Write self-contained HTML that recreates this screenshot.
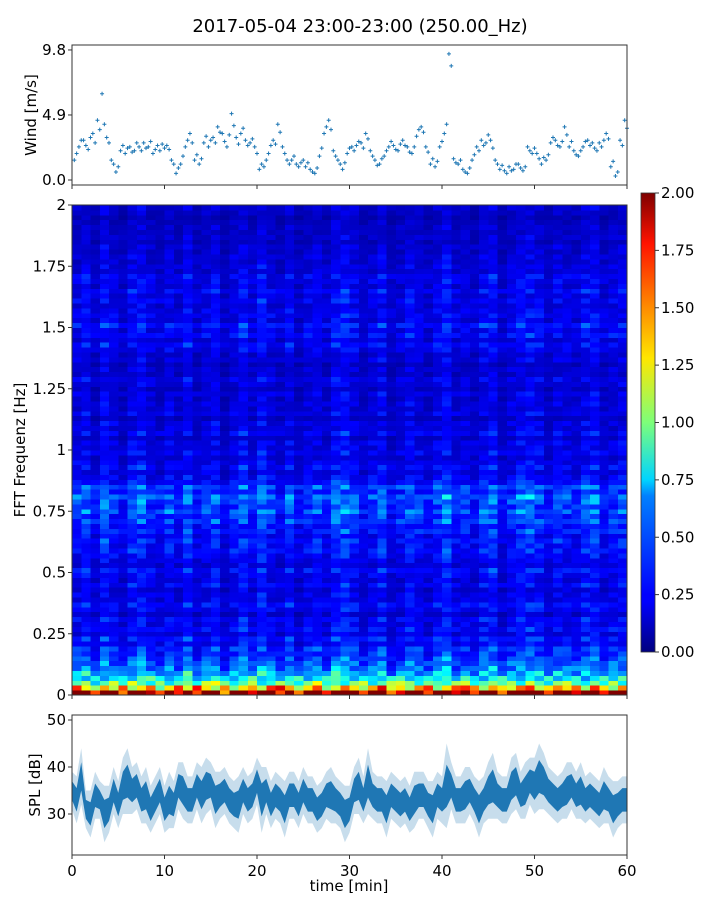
<!DOCTYPE html>
<html><head><meta charset="utf-8"><style>
body{margin:0;background:#fff;}
svg text{font-family:"DejaVu Sans","Liberation Sans",sans-serif;fill:#000;}
</style></head><body>
<svg id="chart" width="720" height="900" xmlns="http://www.w3.org/2000/svg">
<defs>
<linearGradient id="jet" x1="0" y1="1" x2="0" y2="0">
<stop offset="0" stop-color="#00007f"/><stop offset="0.11" stop-color="#0000ff"/><stop offset="0.125" stop-color="#0000ff"/>
<stop offset="0.34" stop-color="#0080ff"/><stop offset="0.375" stop-color="#00d4ff"/><stop offset="0.5" stop-color="#7dff7a"/>
<stop offset="0.64" stop-color="#ffe600"/><stop offset="0.75" stop-color="#ff8c00"/><stop offset="0.89" stop-color="#ff1300"/><stop offset="1" stop-color="#7f0000"/>
</linearGradient>
</defs>
<text x="360" y="32" font-size="18" text-anchor="middle">2017-05-04 23:00-23:00 (250.00_Hz)</text>
<g id="wind"></g>
<g id="spec"></g>
<g id="cbar"></g>
<g id="spl"></g>
</svg>
<script>
const windValues=[1.5,2.5,3,2.3,3.5,4.5,6.5,3.2,1.5,0.6,2.2,2,2.5,2.2,2.5,2.8,2.5,2,2.6,2.7,2.6,1.5,0.5,1.2,2.5,3.5,1.5,1.2,2.8,2.5,3.2,4,3.5,2.5,5,3.2,3.5,3,2.8,2.5,0.8,1,2,3,4.2,2.5,1.5,1.5,1.2,1.3,1,0.8,0.5,1.8,3.5,4.5,2.2,1.5,0.8,2,2.5,2.6,2.8,3.5,2.2,1.5,1.2,1.8,2.5,2.6,2.2,3,2.5,2,3.3,4,2.5,1.2,1,2.5,3.5,9.5,1.6,1.2,0.8,0.5,1.5,2.5,3,2.8,3,1.5,0.8,0.7,1,0.8,1.2,0.7,2.5,2,2,1.2,1.5,2.8,3,2.5,4,2.5,2.2,1.8,2.5,3,2.8,2.2,2.5,3.5,1,0.3,3,4.5];
const windValues2=[2,3,2.6,3.2,2.8,3.8,4.2,2.8,1.2,1,2.6,2.4,2.1,2.8,2.2,2.4,2.9,2.3,2.2,2.4,2.3,1.2,0.9,1.8,3,2.8,1.9,1.6,3.3,3,2.8,3.6,2.9,3.4,4.1,2.7,3.9,2.6,3.1,2,1.2,1.5,2.6,2.7,3.6,2,1.2,1.8,1,1.5,1.3,0.6,0.9,2.4,4,3.8,1.8,1.2,1.3,2.4,2.2,2.9,2.4,3.1,1.8,1.1,1.6,2.2,2.9,2.3,2.7,2.6,2.1,2.5,3.8,3.6,2.1,1.6,1.4,2.9,4.2,8.6,1.3,1.5,0.6,0.9,1.9,2.2,2.6,3.4,2.4,1.2,1.1,0.5,0.7,1.2,0.9,1,2.2,2.4,1.6,1.7,1.9,3.2,2.6,2.9,3.4,2.9,1.9,2.2,2.9,2.6,2.4,2.8,3,3.1,1.4,0.6,2.6,3.9];
const windTicks=[0.0,4.9,9.8];
const timeTicks=[0,10,20,30,40,50,60];
const freqTicks=[0,0.25,0.5,0.75,1,1.25,1.5,1.75,2];
const freqTickLabels=["0","0.25","0.5","0.75","1","1.25","1.5","1.75","2"];
const freqRowValues=[2.0,1.3,0.9,0.7,0.55,0.45,0.4,0.35,0.3,0.32,0.22,0.28,0.18,0.25,0.2,0.24,0.15,0.22,0.26,0.19,0.2,0.16,0.24,0.18,0.21,0.26,0.17,0.2,0.23,0.27,0.24,0.28,0.22,0.3,0.26,0.35,0.3,0.4,0.32,0.36,0.42,0.3,0.38,0.25,0.22,0.18,0.24,0.2,0.16,0.22,0.18,0.2,0.14,0.22,0.17,0.19,0.13,0.2,0.16,0.18,0.15,0.19,0.13,0.17,0.2,0.14,0.16,0.12,0.18,0.15,0.2,0.24,0.17,0.25,0.2,0.28,0.18,0.22,0.2,0.17,0.22,0.18,0.24,0.17,0.2,0.22,0.16,0.18,0.15,0.17,0.14,0.16,0.12,0.15,0.13,0.14,0.12,0.1,0.13,0.15];
const timeColFactors=[1,1.2,0.8,1.3,1,0.75,1.15,1.3,0.95,0.8,1.1,0.85,1.25,0.8,1,1.2,0.7,1,1.3,0.9,1.35,1,0.8,1.15,0.75,1,1.1,0.85,1.3,1.4,1.1,0.8,1,1.25,0.75,0.9,1.2,1,0.8,1.1,1.4,0.9,1,0.8,1.15,1.3,0.75,1,1.25,1.3,1.15,0.8,1.1,1,0.9,1.2,1.3,0.85,1,1.15];
const cbarTicks=[0,0.25,0.5,0.75,1,1.25,1.5,1.75,2];
const splCenter=[35,33,38,31,30,34,33,30,31,35,32,36,37,35,36,33,34,31,33,35,31,33,32,36,35,33,33,36,34,36,36,33,34,35,33,32,32,35,33,34,37,33,35,32,34,33,31,34,34,32,35,33,33,31,32,34,34,33,32,30,31,35,36,33,37,34,33,33,31,34,33,32,33,31,33,34,34,32,31,34,33,36,36,33,33,34,35,33,31,33,35,36,34,33,33,36,37,34,35,37,36,38,37,35,34,33,34,35,36,34,35,33,34,33,32,34,33,31,32,33,33];
const splSpread=[4,5,6,4,5,5,4,6,5,5,5,6,7,5,5,5,6,5,5,5,5,6,5,5,6,5,5,5,6,6,5,6,5,5,5,5,6,5,5,5,5,7,5,5,5,5,6,5,5,5,5,5,5,5,5,5,6,5,5,6,5,5,6,5,7,5,5,5,6,5,5,5,5,5,6,5,5,5,6,5,5,9,5,5,5,6,5,5,6,5,6,7,5,5,5,6,6,5,6,5,6,7,6,5,5,5,5,6,5,5,6,5,5,5,5,6,5,6,5,5,5];
const splTicks=[30,40,50];

const NS="http://www.w3.org/2000/svg";
function mk(p,tag,attrs,txt){const e=document.createElementNS(NS,tag);for(const k in attrs)e.setAttribute(k,attrs[k]);if(txt!==undefined)e.textContent=txt;p.appendChild(e);return e;}
const X0=72,X1=627;
const xs=t=>X0+(t/60)*(X1-X0);
function jet(v){const x=Math.max(0,Math.min(1,v));const c=a=>Math.round(255*Math.max(0,Math.min(1,1.5-Math.abs(4*x-a))));return `rgb(${c(3)},${c(2)},${c(1)})`;}
function frame(g,y0,y1,name){const r=mk(g,'rect',{x:X0,y:y0,width:X1-X0,height:y1-y0,fill:'none',stroke:'#333','stroke-width':1});}
function xticks(g,y1,labels){timeTicks.forEach(t=>{const l=mk(g,'line',{x1:xs(t),x2:xs(t),y1:y1,y2:y1+4,stroke:'#333'});
 if(labels){const tx=mk(g,'text',{x:xs(t),y:y1+21,'font-size':15,'text-anchor':'middle'},String(t));}});}

// wind
const wg=document.getElementById('wind');
const wy=v=>180-v*13.27;
function windPts(arr,off){arr.forEach((v,i)=>{const x=xs(i*0.5+off),y=wy(v);
 const p=mk(wg,'path',{d:`M${x-2} ${y}h4M${x} ${y-2}v4`,stroke:'#1f77b4','stroke-width':1});
 });}
windPts(windValues,0.25);windPts(windValues2,0.5);
frame(wg,45,185,'wind-axes');xticks(wg,185,false);
windTicks.forEach(v=>{mk(wg,'line',{x1:X0-4,x2:X0,y1:wy(v),y2:wy(v),stroke:'#333'});
 const t=mk(wg,'text',{x:X0-6,y:wy(v)+5,'font-size':15,'text-anchor':'end'},v.toFixed(1));});
const wl=mk(wg,'text',{transform:'translate(36,115) rotate(-90)','font-size':15,'text-anchor':'middle'},'Wind [m/s]');

// spectrogram
const sg=document.getElementById('spec');
const SY0=695,SY1=205;const fy=f=>SY0-(f/2)*(SY0-SY1);
const nR=freqRowValues.length,nC=timeColFactors.length;
for(let c=0;c<nC;c++){for(let r=0;r<nR;r++){
 const v=Math.min(2,freqRowValues[r]*timeColFactors[(c+r*7)%nC]*(r<4?1:timeColFactors[c]));
 const x=xs(c*60/nC),w=xs((c+1)*60/nC)-x,y=fy((r+1)*2/nR),h=fy(r*2/nR)-y;
 const rc=mk(sg,'rect',{x:x,y:y,width:w+0.5,height:h+0.5,fill:jet(v/2),'shape-rendering':'crispEdges'});
 }}
frame(sg,205,695,'spectrogram-axes');xticks(sg,695,false);
freqTicks.forEach((f,i)=>{mk(sg,'line',{x1:X0-4,x2:X0,y1:fy(f),y2:fy(f),stroke:'#333'});
 const t=mk(sg,'text',{x:X0-6,y:fy(f)+5,'font-size':15,'text-anchor':'end'},freqTickLabels[i]);});
const sl=mk(sg,'text',{transform:'translate(25,450) rotate(-90)','font-size':15,'text-anchor':'middle'},'FFT Frequenz [Hz]');

// colorbar
const cg=document.getElementById('cbar');
const CY0=652,CY1=193;const cy=v=>CY0-(v/2)*(CY0-CY1);
mk(cg,'rect',{x:641,y:CY1,width:14,height:CY0-CY1,fill:'url(#jet)',stroke:'#333','stroke-width':0.8});
cbarTicks.forEach(v=>{mk(cg,'line',{x1:655,x2:659,y1:cy(v),y2:cy(v),stroke:'#333'});
 const t=mk(cg,'text',{x:661,y:cy(v)+5,'font-size':15},v.toFixed(2));});

// SPL
const pg=document.getElementById('spl');
const py=v=>720+(50-v)*4.7;
let outer='',inner='';const n=splCenter.length;const ts=i=>xs(i*60/(n-1));
for(let i=0;i<n;i++){outer+=(i?'L':'M')+ts(i)+' '+py(splCenter[i]+splSpread[i]);inner+=(i?'L':'M')+ts(i)+' '+py(splCenter[i]+splSpread[i]*0.5);}
for(let i=n-1;i>=0;i--){outer+='L'+ts(i)+' '+py(splCenter[i]-splSpread[i]);inner+='L'+ts(i)+' '+py(splCenter[i]-splSpread[i]*0.5);}
const o=mk(pg,'path',{d:outer+'Z',fill:'#1f77b4','fill-opacity':0.25});
const inn=mk(pg,'path',{d:inner+'Z',fill:'#1f77b4'});
frame(pg,715,855,'spl-axes');xticks(pg,855,true);
splTicks.forEach(v=>{mk(pg,'line',{x1:X0-4,x2:X0,y1:py(v),y2:py(v),stroke:'#333'});
 const t=mk(pg,'text',{x:X0-6,y:py(v)+5,'font-size':15,'text-anchor':'end'},String(v));});
const pl=mk(pg,'text',{transform:'translate(40,785) rotate(-90)','font-size':15,'text-anchor':'middle'},'SPL [dB]');
const xl=mk(pg,'text',{x:349,y:891,'font-size':15,'text-anchor':'middle'},'time [min]');
</script>
</body></html>
